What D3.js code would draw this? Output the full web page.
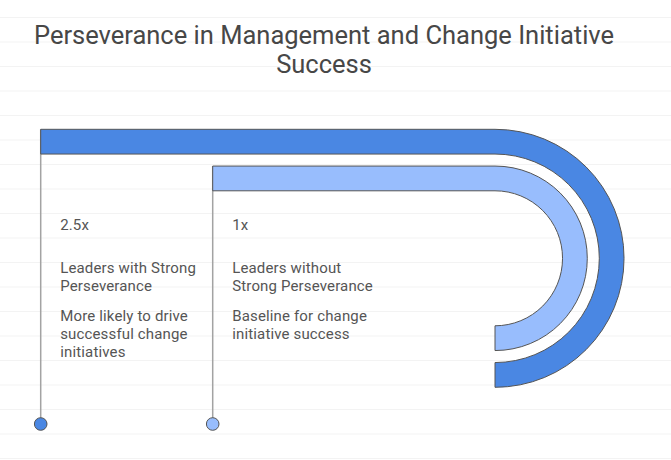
<!DOCTYPE html>
<html>
<head>
<meta charset="utf-8">
<script src="https://cdn.jsdelivr.net/npm/d3@7"></script>
<style>
  html, body { margin: 0; padding: 0; background: #fff; }
  svg { display: block; font-family: Roboto, "Noto Sans", sans-serif; }
</style>
</head>
<body>
<svg id="chart" width="671" height="460"></svg>
<script>
const titleLines = ["Perseverance in Management and Change Initiative", "Success"];
const categories = ["Leaders with Strong\nPerseverance", "Leaders without\nStrong Perseverance"];
const values = [2.5, 1];
const valueLabels = ["2.5x", "1x"];
const descriptions = ["More likely to drive\nsuccessful change\ninitiatives", "Baseline for change\ninitiative success"];
const colors = ["#4a87e3", "#98bdfd"];

const W = 671, H = 460;
const svg = d3.select("#chart");

// background grid lines
const gridY = d3.range(17.5, H, 24.5);
svg.append("g").selectAll("line").data(gridY).join("line")
  .attr("x1", 0).attr("x2", W)
  .attr("y1", d => d).attr("y2", d => d)
  .attr("stroke", "#f3f3f3").attr("stroke-width", 1);

// title
svg.append("text")
  .attr("text-anchor", "middle")
  .attr("fill", "#474747")
  .attr("font-size", 25.5)
  .selectAll("tspan").data(titleLines).join("tspan")
  .attr("x", 324)
  .attr("y", (d, i) => 43.5 + i * 29)
  .text(d => d);

const idx = d3.range(values.length);
const cx = 495, cy = 258.3;

// ring radius scale (outer ring for largest value)
const rScale = d3.scaleBand()
  .domain(idx.slice().reverse())
  .range([67.5, 129])
  .paddingInner(0.3265);

// start x of each bar
const xStart = d3.scalePoint()
  .domain(idx)
  .range([40.7, 212.7]);

const baseY = 424;

// stems
svg.append("g").selectAll("line").data(idx).join("line")
  .attr("x1", i => xStart(i)).attr("x2", i => xStart(i))
  .attr("y1", i => cy - (rScale(i) + rScale.bandwidth()))
  .attr("y2", baseY)
  .attr("stroke", "#a3a3a3").attr("stroke-width", 1.5);

// bars with arc
function shape(i) {
  const rIn = rScale(i), rOut = rIn + rScale.bandwidth();
  const p = d3.path();
  p.moveTo(xStart(i), cy - rOut);
  p.lineTo(cx, cy - rOut);
  p.arc(cx, cy, rOut, -Math.PI / 2, Math.PI / 2, false);
  p.lineTo(cx, cy + rIn);
  p.arc(cx, cy, rIn, Math.PI / 2, -Math.PI / 2, true);
  p.lineTo(xStart(i), cy - rIn);
  p.closePath();
  return p.toString();
}
svg.append("g").selectAll("path").data(idx).join("path")
  .attr("d", shape)
  .attr("fill", i => colors[i])
  .attr("stroke", "#555")
  .attr("stroke-width", 1);

// end dots
svg.append("g").selectAll("circle").data(idx).join("circle")
  .attr("cx", i => xStart(i)).attr("cy", baseY).attr("r", 6.3)
  .attr("fill", i => colors[i])
  .attr("stroke", "#555").attr("stroke-width", 1);

// text blocks
const tg = svg.append("g").attr("fill", "#555").attr("font-size", 15).attr("letter-spacing", 0.15);
idx.forEach(i => {
  const tx = xStart(i) + 19.5;
  tg.append("text").attr("x", tx).attr("y", 230).text(valueLabels[i]);
  const catLines = categories[i].split("\n");
  tg.append("text").selectAll("tspan").data(catLines).join("tspan")
    .attr("x", tx).attr("y", (d, k) => 273 + k * 18).text(d => d);
  const descLines = descriptions[i].split("\n");
  tg.append("text").selectAll("tspan").data(descLines).join("tspan")
    .attr("x", tx).attr("y", (d, k) => 321 + k * 18).text(d => d);
});
</script>
</body>
</html>
